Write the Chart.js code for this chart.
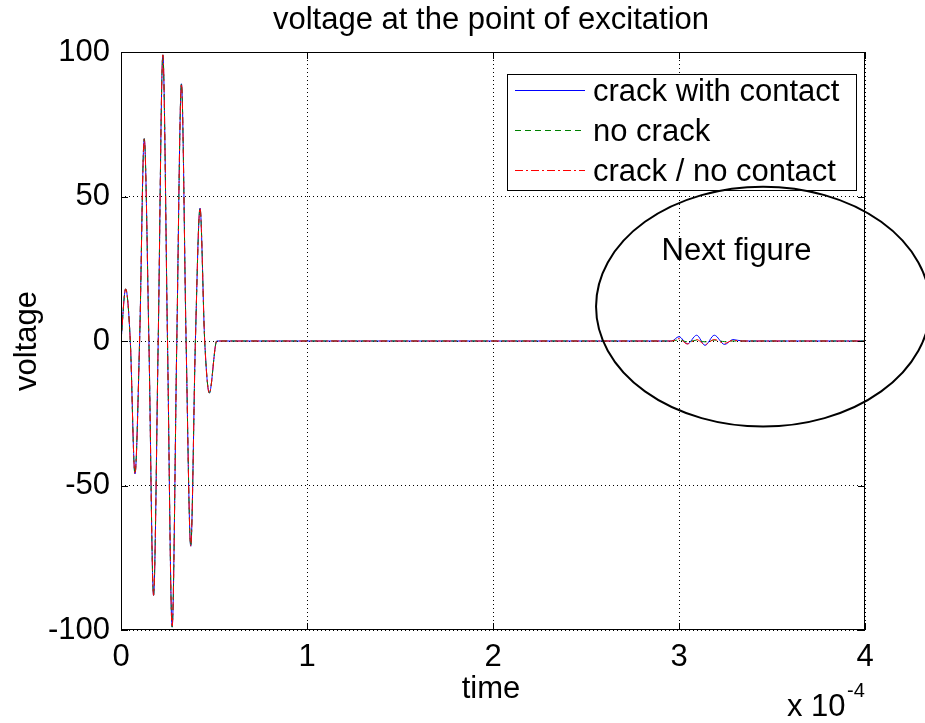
<!DOCTYPE html>
<html>
<head>
<meta charset="utf-8">
<title>voltage at the point of excitation</title>
<script src="https://cdn.jsdelivr.net/npm/chart.js@4.4.1/dist/chart.umd.min.js"></script>
<style>
  html,body{margin:0;padding:0;background:#fff;}
  #wrap{width:925px;height:723px;}
</style>
</head>
<body>
<div id="wrap"><canvas id="chart" width="925" height="723"></canvas></div>
<script>
// time is in units of 1e-4 s (axis shows "x 10^-4"), voltage in V
const burstTime    = [0, 0.025, 0.05, 0.075, 0.1, 0.125, 0.15, 0.175, 0.2, 0.225, 0.25, 0.275, 0.3, 0.325, 0.35, 0.375, 0.4, 0.425, 0.45, 0.475, 0.515];
const burstVoltage = [0, 18, 0, -46, 0, 70, 0, -88, 0, 99, 0, -99, 0, 89, 0, -71, 0, 46, 0, -18, 0];

// small echo near 3e-4, differs per case
const echoTime  = [2.9, 2.96, 3.0, 3.045, 3.095, 3.14, 3.19, 3.245, 3.29, 3.34];
const echoBlue  = [0, 0, 1.5, -1, 2, -1.5, 2, -1.2, 0.5, 0];
const echoGreen = [0, 0, 0.4, -0.3, 0.3, -0.3, 0.3, -0.2, 0, 0];
const echoRed   = [0, 0, 0.8, -1, 0.5, -1.2, 0.5, -0.8, 0.2, 0];
const endTime = 4;

const seriesLabels = ['crack with contact', 'no crack', 'crack / no contact'];
const xTicks = [0, 1, 2, 3, 4];
const yTicks = [-100, -50, 0, 50, 100];

// annotation drawn over the plot (data units)
const ring = { x: 3.452, y: 11.9, rx: 0.898, ry: 41.5 };
const note = { text: 'Next figure', x: 3.309, y: 28 };

const FONT = "'Liberation Sans', Arial, sans-serif";
const font = (px) => `${px}px ${FONT}`;

const toPoints = (ts, vs) => ts.map((t, i) => ({ x: t, y: vs[i] }));
const series = (echo) => [...toPoints(burstTime, burstVoltage), ...toPoints(echoTime, echo), { x: endTime, y: 0 }];

const decorations = {
  id: 'decorations',
  afterDraw(chart){
    const { ctx, chartArea: a, scales: { x, y } } = chart;
    ctx.save();
    ctx.strokeStyle = '#000'; ctx.lineWidth = 1; ctx.setLineDash([]);

    // box + inward ticks on all four sides
    ctx.strokeRect(a.left + 0.5, a.top + 0.5, a.width - 1, a.height - 1);
    ctx.beginPath();
    xTicks.forEach(v => {
      const px = Math.round(x.getPixelForValue(v)) + 0.5;
      ctx.moveTo(px, a.bottom); ctx.lineTo(px, a.bottom - 7);
      ctx.moveTo(px, a.top); ctx.lineTo(px, a.top + 7);
    });
    yTicks.forEach(v => {
      const py = Math.round(y.getPixelForValue(v)) + 0.5;
      ctx.moveTo(a.left, py); ctx.lineTo(a.left + 7, py);
      ctx.moveTo(a.right, py); ctx.lineTo(a.right - 7, py);
    });
    ctx.stroke();

    // legend box
    const bw = 349, bh = 116;
    const bx = a.right - 9 - bw, by = a.top + 22;
    ctx.fillStyle = '#fff'; ctx.fillRect(bx, by, bw, bh);
    ctx.strokeRect(bx + 0.5, by + 0.5, bw, bh);
    chart.data.datasets.forEach((ds, i) => {
      const ly = by + 16.5 + i * 40;
      ctx.strokeStyle = ds.borderColor; ctx.setLineDash(ds.borderDash || []);
      ctx.beginPath(); ctx.moveTo(bx + 8, ly); ctx.lineTo(bx + 78, ly); ctx.stroke();
      ctx.setLineDash([]);
      ctx.fillStyle = '#000'; ctx.font = font(31); ctx.textAlign = 'left'; ctx.textBaseline = 'alphabetic';
      ctx.fillText(ds.label, bx + 86, ly + 10);
    });

    // title and axis labels
    const midX = (a.left + a.right) / 2;
    ctx.fillStyle = '#000'; ctx.textAlign = 'center'; ctx.textBaseline = 'alphabetic';
    ctx.font = font(31);
    ctx.fillText('voltage at the point of excitation', midX - 2, 29);
    ctx.fillText('time', midX - 2, 698);
    ctx.save();
    ctx.translate(36, (a.top + a.bottom) / 2);
    ctx.rotate(-Math.PI / 2);
    ctx.fillText('voltage', 0, 0);
    ctx.restore();

    // exponent label
    ctx.textAlign = 'left';
    ctx.fillText('x 10', 787, 716);
    ctx.font = font(20);
    ctx.fillText('-4', 847, 697);

    // ellipse + note
    const cx = x.getPixelForValue(ring.x), cy = y.getPixelForValue(ring.y);
    const rx = x.getPixelForValue(ring.x + ring.rx) - cx;
    const ry = cy - y.getPixelForValue(ring.y + ring.ry);
    ctx.strokeStyle = '#000'; ctx.lineWidth = 2;
    ctx.beginPath(); ctx.ellipse(cx, cy, rx, ry, 0, 0, 2 * Math.PI); ctx.stroke();
    ctx.font = font(31); ctx.textAlign = 'center';
    ctx.fillText(note.text, x.getPixelForValue(note.x), y.getPixelForValue(note.y));
    ctx.restore();
  }
};

const ctx = document.getElementById('chart').getContext('2d');
new Chart(ctx, {
  type: 'line',
  data: {
    datasets: [
      { label: seriesLabels[0], data: series(echoBlue), borderColor: '#0000ff', borderWidth: 1, order: 2 },
      { label: seriesLabels[1], data: series(echoGreen), borderColor: '#008000', borderWidth: 1, borderDash: [6, 4], order: 1 },
      { label: seriesLabels[2], data: series(echoRed), borderColor: '#ff0000', borderWidth: 1, borderDash: [8, 3, 2, 3], order: 0 }
    ]
  },
  options: {
    responsive: false,
    animation: false,
    devicePixelRatio: 1,
    layout: { padding: { top: 52, right: 60, left: 0, bottom: 0 } },
    elements: { point: { radius: 0 }, line: { cubicInterpolationMode: 'monotone', fill: false } },
    plugins: { legend: { display: false }, tooltip: { enabled: false } },
    scales: {
      x: {
        type: 'linear', min: 0, max: 4,
        afterBuildTicks: s => { s.ticks = xTicks.map(v => ({ value: v })); },
        afterFit: s => { s.height = 93; },
        grid: { color: '#000', lineWidth: 1, drawTicks: false },
        border: { display: false, dash: [1, 3] },
        ticks: { color: '#000', font: { family: FONT, size: 31 }, padding: 9, maxRotation: 0 }
      },
      y: {
        min: -100, max: 100,
        afterBuildTicks: s => { s.ticks = yTicks.map(v => ({ value: v })); },
        afterFit: s => { s.width = 121; },
        grid: { color: '#000', lineWidth: 1, drawTicks: false },
        border: { display: false, dash: [1, 3] },
        ticks: { color: '#000', font: { family: FONT, size: 31 }, padding: 11 }
      }
    }
  },
  plugins: [decorations]
});
</script>
</body>
</html>
